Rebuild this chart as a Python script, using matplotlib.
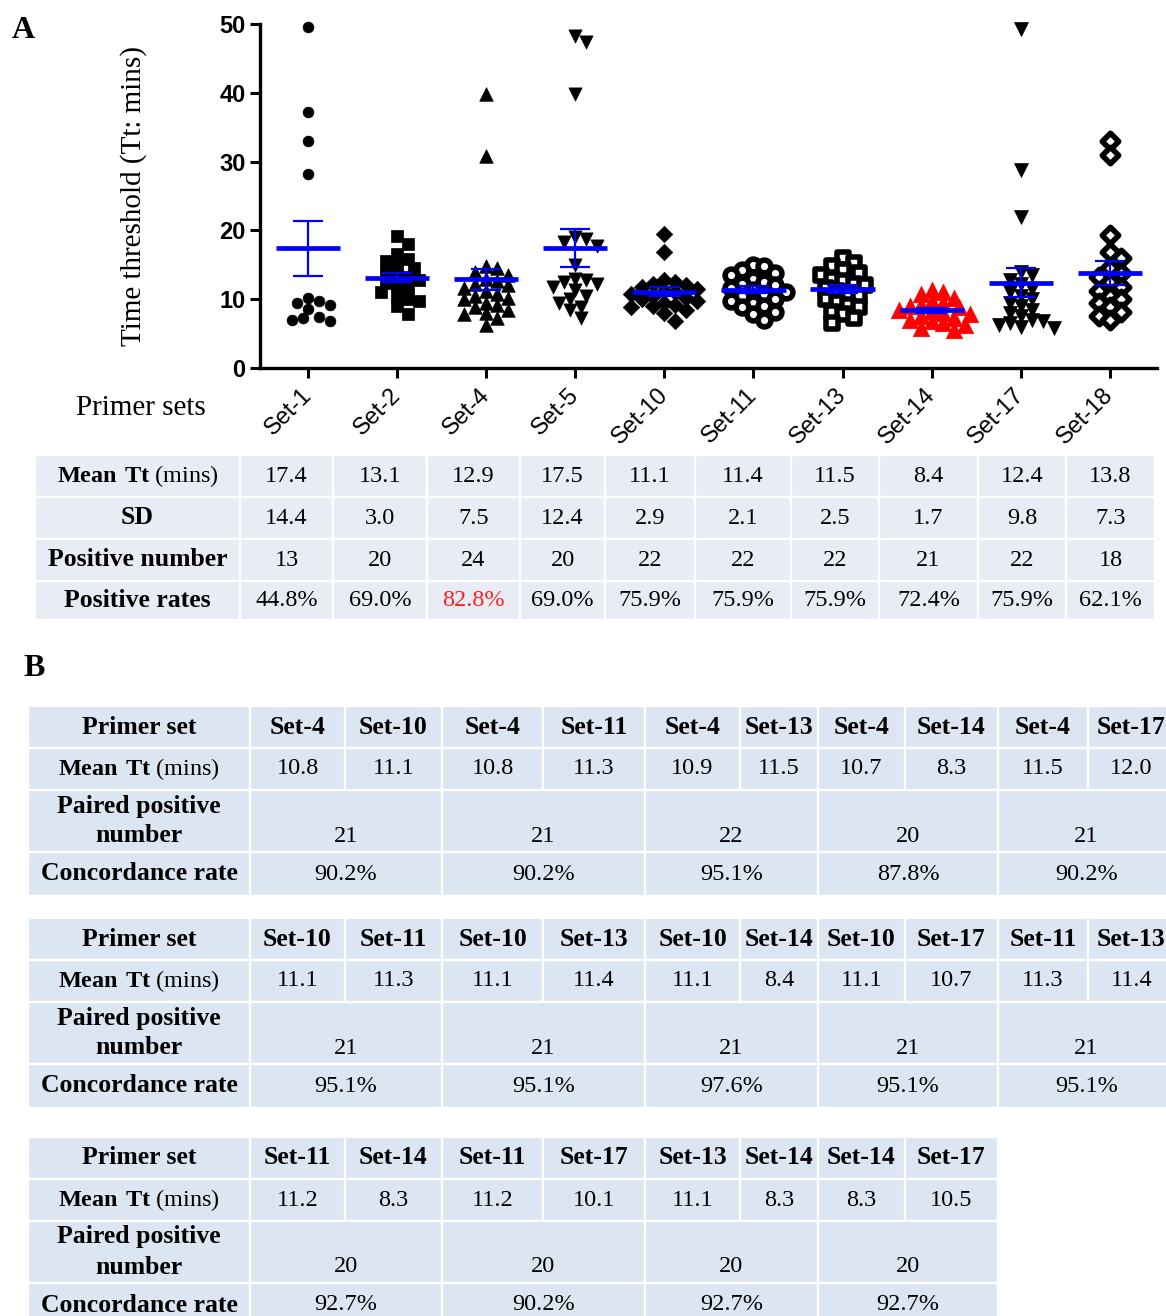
import numpy as np
import matplotlib
matplotlib.use("Agg")
import matplotlib.pyplot as plt
from matplotlib.patches import Rectangle

plt.rcParams['mathtext.fontset'] = 'custom'
plt.rcParams['mathtext.rm'] = 'Liberation Serif'
plt.rcParams['mathtext.bf'] = 'Liberation Serif:bold'

W, H = 1166, 1316

# ---- panel A data ----
sets = ["Set-1", "Set-2", "Set-4", "Set-5", "Set-10", "Set-11", "Set-13", "Set-14", "Set-17", "Set-18"]
tt_set1 = [49.5, 37.2, 33.0, 28.2, 10.2, 9.8, 9.5, 9.1, 8.6, 7.4, 7.2, 7.0, 6.8]
tt_set2 = [19.2, 18.0, 16.5, 15.8, 15.5, 15.0, 14.5, 14.0, 13.5, 13.2, 12.8, 12.3, 12.0,
           11.5, 11.0, 10.5, 10.0, 9.8, 9.0, 7.8]
tt_set4 = [39.8, 30.8, 14.8, 14.5, 14.0, 13.5, 13.0, 12.6, 12.2, 12.0, 11.6, 11.2, 10.8,
           10.5, 10.2, 10.0, 9.5, 9.2, 8.8, 8.5, 8.0, 7.8, 7.2, 6.2]
tt_set5 = [48.2, 47.4, 39.8, 19.0, 18.8, 18.3, 17.8, 15.0, 13.0, 12.8, 12.5, 12.2, 11.8,
           11.3, 10.5, 10.0, 9.5, 8.8, 8.5, 7.3]
tt_set10 = [19.5, 16.8, 12.8, 12.5, 12.2, 12.0, 11.8, 11.5, 11.2, 11.0, 10.8, 10.5, 10.2,
            10.0, 9.8, 9.5, 9.2, 9.0, 8.8, 8.5, 8.0, 6.8]
tt_set11 = [15.0, 14.8, 14.2, 13.8, 13.5, 13.0, 12.5, 12.2, 12.0, 11.6, 11.3, 11.0, 10.8,
            10.5, 10.0, 9.8, 9.5, 9.0, 8.8, 8.2, 7.8, 7.0]
tt_set13 = [16.0, 15.2, 14.8, 14.3, 13.8, 13.5, 13.0, 12.6, 12.2, 12.0, 11.6, 11.2, 10.8,
            10.5, 10.0, 9.6, 9.2, 8.8, 8.2, 7.8, 7.2, 6.5]
tt_set14 = [11.3, 11.0, 10.8, 10.2, 9.8, 9.5, 9.2, 9.0, 8.8, 8.5, 8.3, 8.0, 7.8, 7.5, 7.2,
            7.0, 6.8, 6.5, 6.2, 5.8, 5.5]
tt_set17 = [49.3, 28.8, 22.0, 14.0, 13.5, 12.8, 12.2, 11.5, 11.0, 10.5, 10.0, 9.5, 9.0,
            8.5, 8.0, 7.5, 7.0, 6.8, 6.5, 6.2, 6.0, 5.8]
tt_set18 = [33.0, 31.0, 19.4, 16.8, 16.0, 14.5, 13.8, 13.2, 12.5, 11.8, 11.2, 10.5, 10.0,
            9.5, 8.8, 8.2, 7.5, 7.0]
tt_values = [tt_set1, tt_set2, tt_set4, tt_set5, tt_set10, tt_set11, tt_set13, tt_set14,
             tt_set17, tt_set18]

mean_tt = [17.4, 13.1, 12.9, 17.5, 11.1, 11.4, 11.5, 8.4, 12.4, 13.8]
sd_tt = [14.4, 3.0, 7.5, 12.4, 2.9, 2.1, 2.5, 1.7, 9.8, 7.3]
pos_number = [13, 20, 24, 20, 22, 22, 22, 21, 22, 18]
pos_rates = ["44.8%", "69.0%", "82.8%", "69.0%", "75.9%", "75.9%", "75.9%", "72.4%", "75.9%", "62.1%"]

# ---- panel B data ----
b1_sets = ["Set-4", "Set-10", "Set-4", "Set-11", "Set-4", "Set-13", "Set-4", "Set-14", "Set-4", "Set-17"]
b1_mean = ["10.8", "11.1", "10.8", "11.3", "10.9", "11.5", "10.7", "8.3", "11.5", "12.0"]
b1_paired = ["21", "21", "22", "20", "21"]
b1_conc = ["90.2%", "90.2%", "95.1%", "87.8%", "90.2%"]

b2_sets = ["Set-10", "Set-11", "Set-10", "Set-13", "Set-10", "Set-14", "Set-10", "Set-17", "Set-11", "Set-13"]
b2_mean = ["11.1", "11.3", "11.1", "11.4", "11.1", "8.4", "11.1", "10.7", "11.3", "11.4"]
b2_paired = ["21", "21", "21", "21", "21"]
b2_conc = ["95.1%", "95.1%", "97.6%", "95.1%", "95.1%"]

b3_sets = ["Set-11", "Set-14", "Set-11", "Set-17", "Set-13", "Set-14", "Set-14", "Set-17"]
b3_mean = ["11.2", "8.3", "11.2", "10.1", "11.1", "8.3", "8.3", "10.5"]
b3_paired = ["20", "20", "20", "20"]
b3_conc = ["92.7%", "90.2%", "92.7%", "92.7%"]

# marker styles: (marker, size, face, edge, edge width)
styles = [
    ("o", 60, "black", "black", 0.5),
    ("s", 75, "black", "black", 0.5),
    ("^", 95, "black", "black", 0.5),
    ("v", 90, "black", "black", 0.5),
    ("D", 70, "black", "black", 0.5),
    ("o", 85, "white", "black", 4.0),
    ("s", 85, "white", "black", 4.0),
    ("^", 140, "red", "red", 0.5),
    ("v", 100, "black", "black", 0.5),
    ("D", 70, "white", "black", 4.0),
]


def swarm_offsets(vals, px_x, px_y, dmin=9.0, step=5.0):
    vals = np.asarray(vals, dtype=float)
    placed = []
    offs = np.zeros(len(vals))
    cands = [0.0] + [s * j * step for j in range(1, 30) for s in (1, -1)]
    for i in np.argsort(vals)[::-1]:
        ypx = vals[i] * px_y
        for c in cands:
            if all((c - px) ** 2 + (ypx - py) ** 2 >= dmin ** 2 for px, py in placed):
                break
        placed.append((c, ypx))
        offs[i] = c / px_x
    return offs


fig = plt.figure(figsize=(W / 100, H / 100), dpi=100)

# table / label overlay in pixel coordinates
ov = fig.add_axes([0, 0, 1, 1])
ov.set_xlim(0, W)
ov.set_ylim(H, 0)
ov.axis("off")

# ---- scatter axes ----
ax_l, ax_r, ax_t, ax_b = 260, 1157, 24, 368
ax = fig.add_axes([ax_l / W, 1 - ax_b / H, (ax_r - ax_l) / W, (ax_b - ax_t) / H])
xmin, xmax = -0.54, 9.53
ax.set_xlim(xmin, xmax)
ax.set_ylim(0, 50)
px_x = (ax_r - ax_l) / (xmax - xmin)
px_y = (ax_b - ax_t) / 50.0

for i, vals in enumerate(tt_values):
    m, s, fc, ec, lw = styles[i]
    offs = swarm_offsets(vals, px_x, px_y, dmin=10.5 if fc == "white" else 10.0, step=5.5)
    ax.scatter(i + offs, vals, marker=m, s=s, facecolors=fc, edgecolors=ec,
               linewidths=lw, zorder=3, clip_on=False)
    sem = sd_tt[i] / np.sqrt(pos_number[i])
    ax.hlines(mean_tt[i], i - 0.36, i + 0.36, color="#0000ff", lw=3.4, zorder=4)
    ax.vlines(i, mean_tt[i] - sem, mean_tt[i] + sem, color="#0000ff", lw=1.6, zorder=4)
    ax.hlines([mean_tt[i] - sem, mean_tt[i] + sem], i - 0.17, i + 0.17,
              color="#0000ff", lw=1.6, zorder=4)

for sp in ["top", "right"]:
    ax.spines[sp].set_visible(False)
for sp in ["left", "bottom"]:
    ax.spines[sp].set_linewidth(2.4)
ax.set_yticks([0, 10, 20, 30, 40, 50])
ax.set_xticks(range(len(sets)))
ax.tick_params(axis="both", direction="out", length=7, width=2.2)
ax.set_yticklabels([str(v) for v in [0, 10, 20, 30, 40, 50]],
                   fontsize=17, fontweight="bold", family="Liberation Sans")
ax.set_xticklabels(sets, rotation=45, ha="right", va="center", rotation_mode="anchor",
                   fontsize=17, family="Liberation Sans")
ax.tick_params(axis="x", pad=10)
ax.set_ylabel("Time threshold (Tt: mins)", family="Liberation Serif", fontsize=21, labelpad=52)
ax.patch.set_alpha(0)

ov.text(12, 30, "A", family="Liberation Serif", fontweight="bold", fontsize=23, va="center")
ov.text(23, 668, "B", family="Liberation Serif", fontweight="bold", fontsize=23, va="center")
ov.text(141, 408, "Primer sets", family="Liberation Serif", fontsize=21, ha="center", va="center")

FS = 17.5
FSB = 18.5


def cell(x0, x1, y0, y1, color):
    ov.add_patch(Rectangle((x0, y0), x1 - x0, y1 - y0, facecolor=color,
                           edgecolor="white", lw=1.6))


def txt(x, y, s, bold=False, color="black"):
    ov.text(x, y, s, family="Liberation Serif", fontweight="bold" if bold else "normal",
            fontsize=FSB if bold else FS, color=color, ha="center", va="center")


def mean_txt(x, y):
    ov.text(x, y, r"$\mathbf{Mean\ Tt}$ (mins)", family="Liberation Serif",
            fontsize=FS, ha="center", va="center")


# ---- table A ----
ca = "#e8edf5"
colA = [35, 240, 333, 427, 520, 605, 695, 791, 879, 978, 1066, 1155]
rowA = [455, 497, 539, 581, 620]
labA = [None, "SD", "Positive number", "Positive rates"]
rowsA = [["%.1f" % v for v in mean_tt], ["%.1f" % v for v in sd_tt],
         [str(v) for v in pos_number], pos_rates]
for r in range(4):
    y0, y1 = rowA[r], rowA[r + 1]
    yc = (y0 + y1) / 2
    cell(colA[0], colA[1], y0, y1, ca)
    if labA[r] is None:
        mean_txt((colA[0] + colA[1]) / 2, yc)
    else:
        txt((colA[0] + colA[1]) / 2, yc, labA[r], bold=True)
    for c in range(10):
        cell(colA[c + 1], colA[c + 2], y0, y1, ca)
        col = "#ff2020" if (r == 3 and sets[c] == "Set-4") else "black"
        txt((colA[c + 1] + colA[c + 2]) / 2, yc, rowsA[r][c], color=col)

# ---- tables B ----
cb = "#dce6f2"
colB = [28, 250, 345, 442, 543, 645, 740, 818, 905, 998, 1088, 1175]


def table_b(top, set_names, means, paired, conc):
    rows = [top, top + 42, top + 84, top + 146, top + 190]
    n = len(set_names)
    cx = (colB[0] + colB[1]) / 2
    for r in range(4):
        cell(colB[0], colB[1], rows[r], rows[r + 1], cb)
    txt(cx, (rows[0] + rows[1]) / 2, "Primer set", bold=True)
    mean_txt(cx, (rows[1] + rows[2]) / 2)
    txt(cx, rows[2] + 16, "Paired positive", bold=True)
    txt(cx, rows[2] + 46, "number", bold=True)
    txt(cx, (rows[3] + rows[4]) / 2, "Concordance rate", bold=True)
    for c in range(n):
        x0, x1 = colB[c + 1], colB[c + 2]
        cell(x0, x1, rows[0], rows[1], cb)
        txt((x0 + x1) / 2, (rows[0] + rows[1]) / 2, set_names[c], bold=True)
        cell(x0, x1, rows[1], rows[2], cb)
        txt((x0 + x1) / 2, (rows[1] + rows[2]) / 2, means[c])
    for p in range(n // 2):
        x0, x1 = colB[2 * p + 1], colB[2 * p + 3]
        cell(x0, x1, rows[2], rows[3], cb)
        txt((x0 + x1) / 2, rows[2] + 46, paired[p])
        cell(x0, x1, rows[3], rows[4], cb)
        txt((x0 + x1) / 2, (rows[3] + rows[4]) / 2, conc[p])


table_b(706, b1_sets, b1_mean, b1_paired, b1_conc)
table_b(918, b2_sets, b2_mean, b2_paired, b2_conc)
table_b(1137, b3_sets, b3_mean, b3_paired, b3_conc)

fig.savefig("out.png", dpi=100)
